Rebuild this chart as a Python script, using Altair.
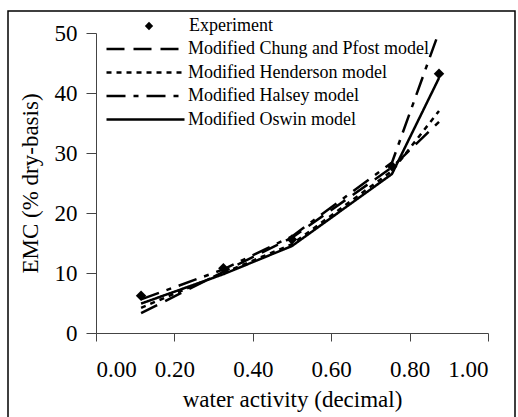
import altair as alt
import pandas as pd

aw = [0.115, 0.325, 0.50, 0.755, 0.875]
experiment = [6.2, 10.8, 15.6, 27.8, 43.2]
chung_pfost = [3.3, 10.2, 15.9, 27.6, 35.2]
henderson = [4.2, 10.0, 14.8, 27.0, 37.0]
halsey = [5.6, 10.6, 16.1, 28.4, 50.2]
oswin = [4.9, 9.8, 14.5, 26.5, 42.5]
models = ["Modified Chung and Pfost model", "Modified Henderson model",
          "Modified Halsey model", "Modified Oswin model"]
model_values = [chung_pfost, henderson, halsey, oswin]
dashes = [[18, 9], [5, 5], [19, 8, 5, 8], [1, 0]]
x_ticks = [0, 0.2, 0.4, 0.6, 0.8, 1.0]
y_ticks = [0, 10, 20, 30, 40, 50]

FONT = "Liberation Serif"

exp_df = pd.DataFrame({"aw": aw, "emc": experiment, "series": "Experiment"})
rows = []
for m, vals in zip(models, model_values):
    for a, v in zip(aw, vals):
        rows.append({"aw": a, "emc": v, "model": m})
mod_df = pd.DataFrame(rows)

x_enc = alt.X("aw:Q", scale=alt.Scale(domain=[0, 1], nice=False),
              axis=alt.Axis(values=x_ticks, format=".2f", title="water activity (decimal)",
                            grid=False, tickSize=8, labelPadding=17,
                            titleY=73, titleBaseline="alphabetic"))
y_enc = alt.Y("emc:Q", scale=alt.Scale(domain=[0, 50], nice=False),
              axis=alt.Axis(values=y_ticks, title="EMC (% dry-basis)", grid=False,
                            tickSize=10, labelPadding=9,
                            titleX=-66, titleY=150, titleAngle=270,
                            titleBaseline="middle", titleAlign="center"))

lines = alt.Chart(mod_df).mark_line(color="black", strokeWidth=2.5).encode(
    x=x_enc, y=y_enc,
    strokeDash=alt.StrokeDash(
        "model:N",
        scale=alt.Scale(domain=models, range=dashes),
        legend=alt.Legend(title=None, orient="none", legendX=9, legendY=7,
                          symbolType="stroke", symbolSize=6084, symbolStrokeWidth=2.5,
                          symbolStrokeColor="black", labelOffset=2, rowPadding=5.5,
                          clipHeight=18, padding=0)),
)

points = alt.Chart(exp_df).mark_point(shape="diamond", filled=True, size=110,
                                      color="black", opacity=1).encode(
    x="aw:Q", y="emc:Q",
    shape=alt.Shape("series:N",
                    scale=alt.Scale(domain=["Experiment"], range=["diamond"]),
                    legend=alt.Legend(title=None, orient="none", legendX=44, legendY=-16,
                                      symbolSize=70, symbolFillColor="black",
                                      symbolStrokeColor="black", labelOffset=31,
                                      clipHeight=18, padding=0)),
)

frame = alt.Chart(pd.DataFrame({"f": [0]})).mark_rect(
    fill=None, stroke="black", strokeWidth=1.5).encode(
    x=alt.value(-88), x2=alt.value(419), y=alt.value(-22), y2=alt.value(400))

chart = alt.layer(frame, lines, points).properties(
    width=392, height=300,
    background="white",
    autosize=alt.AutoSizeParams(type="none"),
    padding={"left": 96, "top": 33, "right": 30, "bottom": 84},
).configure_view(stroke=None).configure_axis(
    labelFont=FONT, titleFont=FONT, labelFontSize=23, titleFontSize=23,
    labelColor="black", titleColor="black", titleFontWeight="normal",
    domainColor="#444", tickColor="#444", domainWidth=1, tickWidth=1,
).configure_legend(
    labelFont=FONT, labelFontSize=18, labelColor="black", labelLimit=0,
)

chart.save("out.html", embed_options={"renderer": "svg", "actions": False})
